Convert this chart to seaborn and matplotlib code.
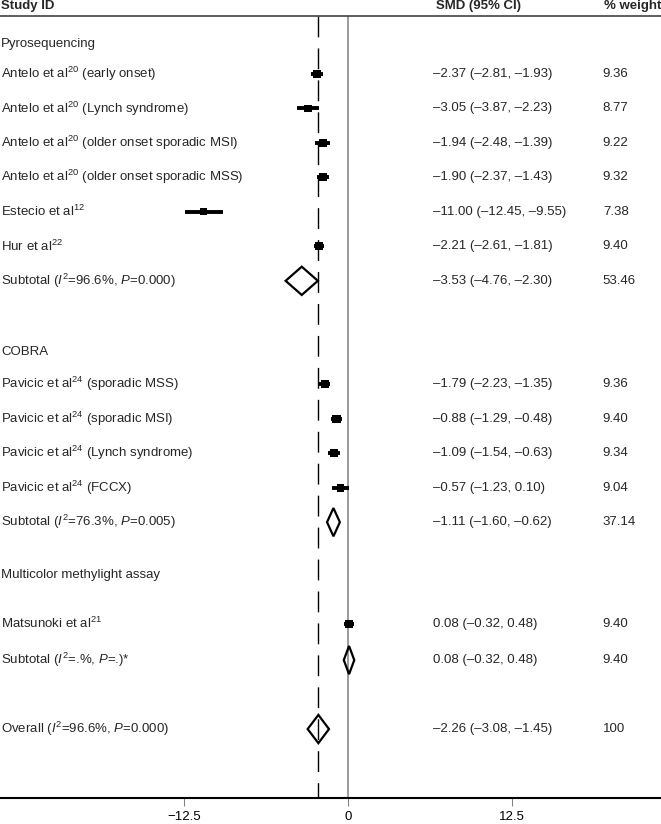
import numpy as np
import pandas as pd
import matplotlib
matplotlib.use('Agg')
import matplotlib.pyplot as plt
import matplotlib.transforms as mtransforms
import seaborn as sns

# Data
labels = [
    "Pyrosequencing",
    r"Antelo et al$^{20}$ (early onset)",
    r"Antelo et al$^{20}$ (Lynch syndrome)",
    r"Antelo et al$^{20}$ (older onset sporadic MSI)",
    r"Antelo et al$^{20}$ (older onset sporadic MSS)",
    r"Estecio et al$^{12}$",
    r"Hur et al$^{22}$",
    r"Subtotal ($I^2$=96.6%, $P$=0.000)",
    "COBRA",
    r"Pavicic et al$^{24}$ (sporadic MSS)",
    r"Pavicic et al$^{24}$ (sporadic MSI)",
    r"Pavicic et al$^{24}$ (Lynch syndrome)",
    r"Pavicic et al$^{24}$ (FCCX)",
    r"Subtotal ($I^2$=76.3%, $P$=0.005)",
    "Multicolor methylight assay",
    r"Matsunoki et al$^{21}$",
    r"Subtotal ($I^2$=.%, $P$=.)*",
    r"Overall ($I^2$=96.6%, $P$=0.000)",
]
kind = ['group', 'study', 'study', 'study', 'study', 'study', 'study', 'sub',
        'group', 'study', 'study', 'study', 'study', 'sub',
        'group', 'study', 'sub', 'overall']
smd = [np.nan, -2.37, -3.05, -1.94, -1.90, -11.00, -2.21, -3.53,
       np.nan, -1.79, -0.88, -1.09, -0.57, -1.11,
       np.nan, 0.08, 0.08, -2.26]
ci_lo = [np.nan, -2.81, -3.87, -2.48, -2.37, -12.45, -2.61, -4.76,
         np.nan, -2.23, -1.29, -1.54, -1.23, -1.60,
         np.nan, -0.32, -0.32, -3.08]
ci_hi = [np.nan, -1.93, -2.23, -1.39, -1.43, -9.55, -1.81, -2.30,
         np.nan, -1.35, -0.48, -0.63, 0.10, -0.62,
         np.nan, 0.48, 0.48, -1.45]
weight = [np.nan, 9.36, 8.77, 9.22, 9.32, 7.38, 9.40, 53.46,
          np.nan, 9.36, 9.40, 9.34, 9.04, 37.14,
          np.nan, 9.40, 9.40, 100]
# row slots (top to bottom), as laid out in the original
rows = [0.13, 1, 2, 3, 4, 5, 6, 7, 9.06, 10, 11, 12, 13, 14, 15.52, 16.94, 18, 20]

tick_values = [-12.5, 0, 12.5]
tick_labels = ['\u221212.5', '0', '12.5']

df = pd.DataFrame({'label': labels, 'kind': kind, 'smd': smd, 'lo': ci_lo,
                   'hi': ci_hi, 'weight': weight, 'row': rows})


def fmt(v):
    return f'{v:.2f}'.replace('-', '\u2013')


sns.set_theme(style='white')
plt.rcParams['font.family'] = ['Liberation Sans', 'DejaVu Sans']
plt.rcParams['mathtext.fontset'] = 'custom'
plt.rcParams['mathtext.rm'] = 'Liberation Sans'
plt.rcParams['mathtext.it'] = 'Liberation Sans:italic'
plt.rcParams['mathtext.bf'] = 'Liberation Sans:bold'

fig = plt.figure(figsize=(6.61, 8.24), dpi=100)
ax = fig.add_axes([0, 26 / 824, 1, 798 / 824])

fs = 9.5
top_line = -0.69
axis_row = 22
overall = df.loc[df['kind'] == 'overall', 'smd'].iloc[0]

# reference lines
ax.axhline(top_line, color='#333333', lw=1.1)
ax.vlines(0, top_line, axis_row, color='#808080', lw=1.1, zorder=1)
ax.vlines(overall, top_line, axis_row, color='black', lw=1.0,
          linestyles=[(0, (15, 8))], zorder=1)

# individual studies: CI line + weighted square
studies = df[df['kind'] == 'study']
ax.hlines(studies['row'], studies['lo'], studies['hi'], color='black', lw=2.8, zorder=2)
sns.scatterplot(x=studies['smd'], y=studies['row'], marker='s',
                s=3.6 * studies['weight'].to_numpy(), color='black',
                linewidth=0, ax=ax, legend=False, zorder=3)

# pooled estimates: hollow diamonds
half_h = 0.41
for _, r in df[df['kind'].isin(['sub', 'overall'])].iterrows():
    ax.fill([r['lo'], r['smd'], r['hi'], r['smd']],
            [r['row'], r['row'] - half_h, r['row'], r['row'] + half_h],
            facecolor='none', edgecolor='black', lw=1.6, zorder=4)

# text columns
trans = mtransforms.blended_transform_factory(ax.transAxes, ax.transData)
ax.text(0.002, -0.97, 'Study ID', transform=trans, fontsize=fs, fontweight='bold', va='center')
ax.text(0.6596, -0.97, 'SMD (95% CI)', transform=trans, fontsize=fs, fontweight='bold', va='center')
ax.text(0.9138, -0.97, '% weight', transform=trans, fontsize=fs, fontweight='bold', va='center')

for _, r in df.iterrows():
    ax.text(0.002, r['row'], r['label'], transform=trans, fontsize=fs, va='center')
    if r['kind'] == 'group':
        continue
    ax.text(0.655, r['row'], f"{fmt(r['smd'])} ({fmt(r['lo'])}, {fmt(r['hi'])})",
            transform=trans, fontsize=fs, va='center')
    w = r['weight']
    ax.text(0.912, r['row'], '100' if w == 100 else f'{w:.2f}',
            transform=trans, fontsize=fs, va='center')

ax.set_xlim(-26.56, 23.89)
ax.set_ylim(axis_row, -1.145)
ax.set_yticks([])
ax.set_xticks(tick_values)
ax.set_xticklabels(tick_labels)
ax.set_xlabel('')
ax.set_ylabel('')
ax.tick_params(axis='x', bottom=True, direction='out', length=5.8, width=0.75,
               color='#808080', pad=3.8, labelsize=fs, labelcolor='black')
for side in ['top', 'left', 'right']:
    ax.spines[side].set_visible(False)
ax.spines['bottom'].set_color('black')
ax.spines['bottom'].set_linewidth(1.5)

fig.savefig('out.png', dpi=100)
